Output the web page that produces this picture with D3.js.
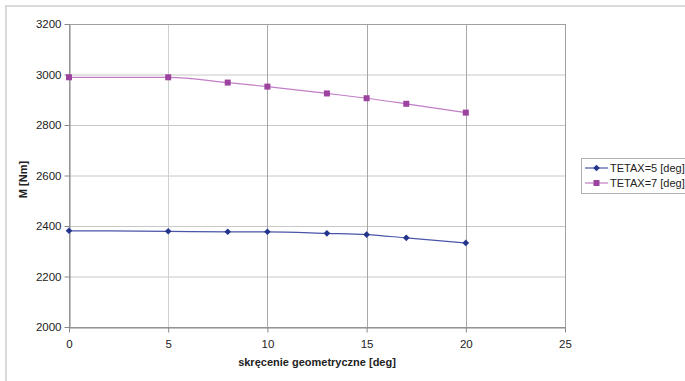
<!DOCTYPE html>
<html><head><meta charset="utf-8">
<script src="https://cdn.jsdelivr.net/npm/d3@7/dist/d3.min.js"></script>
<style>body{margin:0;background:#fff;}svg{display:block;font-family:"Liberation Sans",Arial,sans-serif;}</style>
</head><body>
<svg id="c" width="685" height="381"></svg>
<script>
const xValues = [0, 5, 8, 10, 13, 15, 17, 20];
const seriesNames = ["TETAX=5 [deg]", "TETAX=7 [deg]"];
const tetax5 = [2381, 2379, 2377, 2377, 2371, 2366, 2353, 2333];
const tetax7 = [2989, 2989, 2968, 2952, 2925, 2906, 2884, 2849];
const xTicks = [0, 5, 10, 15, 20, 25];
const yTicks = [2000, 2200, 2400, 2600, 2800, 3000, 3200];
const xTitle = "skręcenie geometryczne [deg]";
const yTitle = "M [Nm]";

const svg = d3.select("#c");
const L = 69, T = 24, R = 565, B = 327;
const x = d3.scaleLinear().domain([0, 25]).range([L, R]);
const y = d3.scaleLinear().domain([2000, 3200]).range([B, T]);

// outer frame
svg.append("rect").attr("x", 6).attr("y", 6).attr("width", 700).attr("height", 400)
  .attr("fill", "none").attr("stroke", "#d9d9d9").attr("stroke-width", 2);

// gridlines
svg.append("g").selectAll("line").data(yTicks).join("line")
  .attr("x1", L).attr("x2", R).attr("y1", d => y(d) + 0.5).attr("y2", d => y(d) + 0.5)
  .attr("stroke", "#c8c8c8").attr("stroke-width", 1);
svg.append("g").selectAll("line").data(xTicks.slice(1)).join("line")
  .attr("x1", d => Math.round(x(d)) + 0.5).attr("x2", d => Math.round(x(d)) + 0.5)
  .attr("y1", T).attr("y2", B)
  .attr("stroke", d => d === 5 ? "#d0d0d0" : "#a8a8a8").attr("stroke-width", 1);
// plot border
svg.append("rect").attr("x", L + 0.5).attr("y", T + 0.5).attr("width", R - L).attr("height", B - T)
  .attr("fill", "none").attr("stroke", "#a0a0a0");

// axes
const xAxis = d3.axisBottom(x).tickValues(xTicks).tickFormat(d3.format("d")).tickSize(5).tickSizeOuter(0).tickPadding(7);
const gx = svg.append("g").attr("transform", `translate(0,${B + 0.5})`).call(xAxis);
const yAxis = d3.axisLeft(y).tickValues(yTicks).tickFormat(d3.format("d")).tickSize(5).tickSizeOuter(0).tickPadding(3);
const gy = svg.append("g").attr("transform", `translate(${L + 0.5},0)`).call(yAxis);
[gx, gy].forEach(g => {
  g.select(".domain").attr("stroke", "#888");
  g.selectAll(".tick line").attr("stroke", "#888");
  g.selectAll(".tick text").attr("fill", "#222").attr("font-size", 11.5)
   .attr("font-family", "Liberation Sans, Arial, sans-serif");
});

// titles
svg.append("text").attr("x", (L + R) / 2).attr("y", 366).attr("text-anchor", "middle")
  .attr("font-size", 11).attr("font-weight", "bold").attr("fill", "#222").text(xTitle);
svg.append("text").attr("transform", `translate(27,${(T + B) / 2 + 4}) rotate(-90)`)
  .attr("text-anchor", "middle").attr("font-size", 11).attr("font-weight", "bold")
  .attr("fill", "#222").text(yTitle);

const line = d3.line().x((d, i) => x(xValues[i])).y(d => y(d)).curve(d3.curveMonotoneX);
const blueLine = "#4a55a8", blueMark = "#24358e";
const purpLine = "#c17ec6", purpMark = "#9c429f";

svg.append("path").datum(tetax5).attr("d", line).attr("fill", "none").attr("stroke", blueLine).attr("stroke-width", 1.2);
svg.append("path").datum(tetax7).attr("d", line).attr("fill", "none").attr("stroke", purpLine).attr("stroke-width", 1.2);

const diamond = d3.symbol().type(d3.symbolDiamond2).size(28);
svg.append("g").selectAll("path").data(tetax5).join("path")
  .attr("transform", (d, i) => `translate(${x(xValues[i])},${y(d)})`)
  .attr("d", diamond).attr("fill", blueMark);
svg.append("g").selectAll("rect").data(tetax7).join("rect")
  .attr("x", (d, i) => x(xValues[i]) - 3).attr("y", d => y(d) - 3)
  .attr("width", 6).attr("height", 6).attr("fill", purpMark);

// legend
const lg = svg.append("g");
lg.append("rect").attr("x", 581.5).attr("y", 158.5).attr("width", 120).attr("height", 35)
  .attr("fill", "#fff").attr("stroke", "#b0b0b0");
const items = [
  {name: seriesNames[0], lc: blueLine, mc: blueMark, shape: "d"},
  {name: seriesNames[1], lc: purpLine, mc: purpMark, shape: "s"}
];
items.forEach((it, i) => {
  const cy = 168 + i * 15;
  lg.append("line").attr("x1", 585).attr("x2", 608).attr("y1", cy).attr("y2", cy)
    .attr("stroke", it.lc).attr("stroke-width", 1.2);
  if (it.shape === "d") {
    lg.append("path").attr("transform", `translate(596.5,${cy})`).attr("d", diamond).attr("fill", it.mc);
  } else {
    lg.append("rect").attr("x", 593.5).attr("y", cy - 3).attr("width", 6).attr("height", 6).attr("fill", it.mc);
  }
  lg.append("text").attr("x", 610).attr("y", cy + 4).attr("font-size", 11).attr("fill", "#222").text(it.name);
});
</script>
</body></html>
